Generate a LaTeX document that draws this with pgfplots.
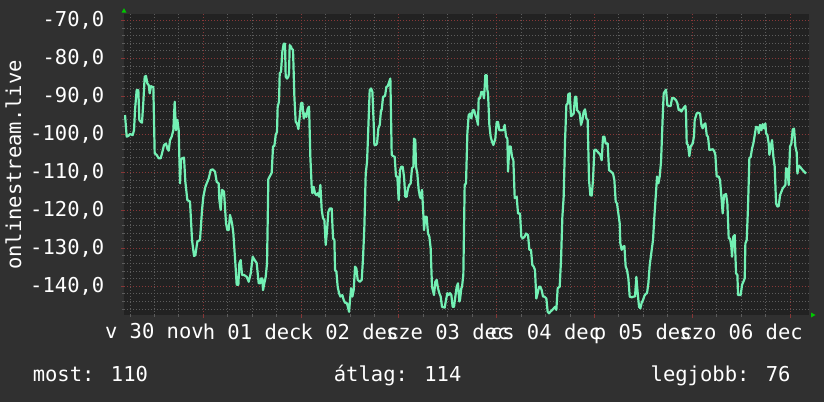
\documentclass[border=0pt]{standalone}
\usepackage{fontspec}
\setmainfont{DejaVu Sans Mono}
\usepackage{pgfplots}
\pgfplotsset{compat=1.18}
\definecolor{outerbg}{RGB}{48,48,48}
\definecolor{plotbg}{RGB}{34,34,34}
\definecolor{mingrid}{RGB}{92,92,92}
\definecolor{majgrid}{RGB}{135,55,55}
\definecolor{linecol}{RGB}{115,240,180}
\definecolor{arrowgreen}{RGB}{0,200,0}
\newcommand{\chartfont}{\fontsize{20.5bp}{24bp}\selectfont}
\begin{document}
\begin{tikzpicture}[x=1bp,y=1bp]
\fill[outerbg] (0,0) rectangle (824,402);
\begin{axis}[
  at={(124bp,87bp)}, anchor=south west,
  scale only axis, width=685bp, height=301bp,
  xmin=4.54, xmax=172.68, ymin=-147.55, ymax=-68.3,
  axis background/.style={fill=plotbg},
  axis line style={draw=none},
  xtick={24,48,72,96,120,144,168},
  xticklabels={},
  minor xtick={6,12,18,30,36,42,54,60,66,78,84,90,102,108,114,126,132,138,150,156,162},
  extra x ticks={12,36,60,84,108,132,156},
  extra x tick labels={v 30 nov,h 01 dec,k 02 dec,sze 03 dec,cs 04 dec,p 05 dec,szo 06 dec},
  extra x tick style={grid=none, major tick length=0pt,
     xticklabel style={anchor=north, inner sep=0pt, yshift=-8.5bp, text=white, font=\chartfont}},
  ytick={-140,-130,-120,-110,-100,-90,-80,-70},
  yticklabels={{-140,0},{-130,0},{-120,0},{-110,0},{-100,0},{-90,0},{-80,0},{-70,0}},
  minor ytick={-146,-144,-142,-138,-136,-134,-132,-128,-126,-124,-122,-118,-116,-114,-112,-108,-106,-104,-102,-98,-96,-94,-92,-88,-86,-84,-82,-78,-76,-74,-72},
  yticklabel style={anchor=east, inner sep=0pt, xshift=-16.5bp, text=white, font=\chartfont},
  grid=both,
  major grid style={draw=majgrid, line width=0.9bp, dash pattern=on 1bp off 2bp},
  minor grid style={draw=mingrid, line width=0.9bp, dash pattern=on 1bp off 2bp},
  xtick pos=bottom, ytick pos=left,
  major tick length=3bp, minor tick length=2bp, tick align=outside,
  major tick style={draw=majgrid, line width=0.9bp},
  minor tick style={draw=mingrid, line width=0.9bp},
  clip=true,
]
\addplot[linecol, line width=2.2bp, line join=round, no marks] table {
x y
4.79 -94.9
5.20 -100.6
5.61 -100.4
6.01 -99.9
6.67 -100.2
7.00 -98.9
7.24 -93.6
7.65 -88.3
8.06 -88.3
8.31 -96.2
8.63 -96.7
8.96 -96.9
9.29 -91.4
9.62 -84.8
9.94 -84.6
10.27 -86.6
10.60 -87.0
10.84 -89.2
11.17 -87.3
11.50 -87.5
11.74 -87.5
12.07 -105.0
12.56 -105.4
13.05 -106.3
13.54 -106.3
13.87 -105.0
14.36 -102.8
14.85 -102.4
15.18 -103.7
15.51 -104.3
15.83 -101.5
16.24 -100.6
16.65 -98.9
16.98 -91.4
17.31 -98.9
17.64 -96.2
17.96 -98.9
18.29 -112.9
18.54 -106.8
18.78 -106.3
19.27 -106.1
19.60 -112.5
20.09 -117.3
20.74 -117.7
21.24 -127.8
21.73 -132.0
22.05 -131.8
22.55 -128.2
23.20 -127.8
23.69 -119.9
24.02 -116.4
24.51 -113.8
24.84 -112.9
25.33 -111.6
25.82 -109.4
26.31 -109.2
26.88 -109.8
27.29 -112.5
27.78 -112.9
27.95 -117.3
28.27 -119.9
28.60 -114.6
29.09 -115.1
29.58 -123.4
29.91 -125.2
30.24 -125.2
30.56 -121.2
31.06 -123.4
31.38 -126.1
31.87 -133.9
32.20 -139.6
32.61 -139.6
32.86 -133.9
33.18 -133.1
33.51 -137.0
34.00 -137.0
34.66 -137.5
35.15 -138.8
35.64 -136.6
36.13 -132.2
36.62 -133.1
37.11 -133.9
37.60 -139.2
38.01 -139.2
38.17 -137.9
38.50 -137.9
38.66 -141.0
38.99 -139.2
39.32 -137.5
39.65 -133.9
39.97 -111.8
40.30 -111.1
40.79 -110.1
41.12 -103.2
41.45 -103.0
41.77 -100.2
42.10 -99.3
42.26 -92.7
42.59 -91.4
42.76 -83.9
43.08 -83.5
43.41 -78.2
43.74 -76.1
44.06 -76.1
44.23 -84.8
44.56 -85.3
44.88 -84.8
45.05 -83.9
45.21 -76.5
45.54 -76.9
45.70 -77.4
46.03 -77.8
46.36 -90.1
46.68 -96.7
47.01 -97.1
47.34 -98.6
47.67 -95.4
47.99 -91.8
48.32 -91.7
48.65 -95.8
48.97 -94.5
49.30 -95.4
49.63 -93.2
49.96 -92.7
50.28 -105.9
50.61 -113.8
50.78 -115.5
51.10 -113.8
51.43 -115.5
51.76 -116.0
52.08 -115.5
52.41 -116.4
52.74 -113.3
53.07 -119.9
53.39 -122.1
53.72 -122.5
54.05 -129.1
54.38 -125.2
54.70 -120.4
55.03 -119.5
55.52 -119.5
55.85 -127.4
56.18 -127.8
56.34 -135.7
56.67 -136.1
56.99 -140.1
57.32 -141.8
57.65 -142.7
58.14 -142.3
58.47 -143.6
58.79 -144.3
59.29 -144.5
59.78 -146.7
60.02 -143.6
60.27 -140.5
60.60 -142.7
60.92 -141.0
61.25 -134.8
61.58 -135.3
61.90 -138.3
62.40 -138.8
62.89 -138.3
63.21 -132.6
63.54 -124.3
63.87 -110.3
64.20 -107.2
64.52 -98.0
64.85 -88.3
65.18 -87.9
65.51 -88.8
65.83 -97.1
66.00 -102.8
66.32 -102.8
66.65 -102.4
66.98 -98.4
67.31 -97.5
67.63 -93.6
67.80 -93.6
68.12 -90.1
68.61 -89.9
68.94 -87.5
69.27 -87.3
69.76 -85.7
69.92 -85.3
70.25 -105.4
70.58 -105.7
70.98 -105.9
71.30 -111.1
71.63 -111.1
71.96 -117.3
72.28 -109.4
72.61 -108.5
72.94 -108.5
73.27 -111.1
73.59 -116.4
73.92 -116.4
74.25 -114.2
74.58 -113.3
74.90 -112.9
75.23 -108.9
75.56 -108.5
75.72 -101.1
76.05 -101.5
76.21 -108.5
76.54 -110.3
76.87 -114.6
77.19 -116.4
77.36 -116.8
77.69 -114.6
78.01 -120.8
78.18 -125.2
78.50 -121.7
78.83 -121.7
79.16 -126.1
79.49 -126.9
79.81 -130.0
80.14 -140.1
80.63 -142.3
80.96 -138.8
81.29 -138.3
81.61 -140.5
81.94 -141.8
82.27 -142.7
82.60 -145.4
82.92 -145.5
83.25 -145.6
83.58 -143.6
83.91 -141.8
84.23 -142.3
84.56 -141.8
84.89 -142.3
85.21 -145.4
85.54 -145.4
85.87 -142.7
86.20 -140.1
86.52 -139.2
86.85 -144.0
87.01 -143.6
87.34 -140.5
87.51 -140.1
87.83 -137.0
88.16 -113.3
88.49 -112.9
88.82 -99.7
89.14 -94.9
89.47 -94.5
89.80 -95.8
90.12 -93.6
90.45 -93.6
90.78 -94.9
91.11 -95.8
91.43 -97.5
91.60 -90.5
91.92 -90.5
92.25 -88.8
92.58 -88.8
92.91 -90.5
93.23 -84.4
93.56 -84.4
93.73 -88.3
93.89 -89.2
94.22 -97.5
94.54 -100.6
94.87 -101.9
95.20 -102.8
95.69 -101.1
96.02 -96.7
96.34 -96.7
96.67 -98.9
97.16 -98.9
97.65 -98.9
97.98 -97.5
98.31 -100.6
98.64 -101.1
98.80 -109.8
99.13 -103.2
99.45 -103.2
99.78 -105.9
100.11 -106.8
100.44 -116.8
100.93 -116.4
101.25 -120.8
101.74 -120.8
102.07 -126.9
102.40 -127.4
102.89 -126.9
103.22 -126.1
103.71 -126.5
104.04 -130.4
104.44 -130.4
104.77 -134.4
105.10 -134.8
105.42 -135.7
105.75 -143.2
106.08 -141.8
106.41 -140.1
106.73 -140.1
107.06 -141.0
107.39 -142.7
107.72 -142.7
108.21 -143.2
108.53 -146.7
108.86 -147.1
109.19 -146.7
109.68 -146.2
110.01 -145.8
110.33 -145.4
110.66 -146.2
110.99 -140.5
111.48 -140.1
111.81 -133.1
112.14 -121.7
112.46 -116.4
112.79 -101.9
113.12 -92.3
113.44 -91.8
113.61 -89.4
113.94 -89.2
114.26 -95.2
114.59 -94.9
114.92 -94.5
115.24 -90.1
115.57 -90.1
115.74 -93.6
116.06 -94.0
116.39 -94.5
116.72 -97.5
117.05 -96.2
117.37 -94.0
117.70 -93.4
118.03 -95.8
118.35 -96.2
118.68 -112.0
119.01 -116.0
119.34 -116.1
119.66 -112.0
119.99 -104.1
120.32 -104.0
120.81 -104.6
121.14 -105.0
121.46 -105.4
121.79 -106.8
122.12 -100.6
122.45 -100.6
122.77 -102.4
123.26 -102.4
123.59 -109.4
124.08 -109.8
124.57 -110.3
124.90 -112.0
125.23 -117.7
125.56 -118.2
125.88 -120.8
126.21 -123.4
126.37 -128.7
126.70 -130.4
127.03 -129.6
127.36 -129.4
127.68 -134.8
128.01 -135.7
128.34 -137.9
128.67 -142.7
129.16 -142.9
129.65 -142.7
129.97 -142.7
130.30 -137.5
130.63 -141.8
130.96 -145.4
131.28 -145.8
131.61 -144.3
131.94 -143.6
132.27 -142.5
132.59 -142.0
132.92 -141.8
133.25 -139.2
133.58 -134.4
134.07 -130.4
134.39 -127.8
134.72 -121.7
135.05 -116.4
135.38 -111.1
135.70 -112.9
136.03 -111.1
136.36 -107.2
136.69 -97.5
137.01 -89.2
137.58 -88.2
137.91 -92.3
138.24 -92.5
138.73 -92.5
139.06 -90.4
139.55 -90.5
140.04 -91.0
140.37 -91.8
140.69 -93.6
141.02 -93.4
141.35 -94.0
141.67 -93.4
142.00 -92.9
142.33 -92.5
142.49 -94.5
142.66 -102.4
142.98 -102.8
143.31 -105.7
143.64 -103.2
144.13 -102.4
144.46 -100.4
144.62 -96.2
145.11 -94.5
145.44 -94.3
145.93 -94.5
146.26 -97.5
146.58 -98.4
146.91 -97.4
147.24 -97.1
147.57 -100.2
147.89 -100.6
148.22 -104.1
148.71 -104.0
149.04 -103.9
149.37 -104.3
149.69 -105.4
150.02 -111.1
150.51 -111.1
150.84 -112.0
151.17 -116.4
151.49 -120.8
151.82 -116.0
152.31 -115.7
152.64 -118.2
152.97 -127.4
153.29 -127.4
153.62 -129.6
153.79 -132.2
154.11 -126.9
154.44 -126.5
154.77 -136.6
155.10 -137.0
155.26 -142.3
155.91 -142.3
156.24 -139.6
156.57 -138.8
156.90 -137.9
157.06 -128.7
157.39 -127.8
157.71 -119.0
158.04 -106.3
158.37 -105.9
158.70 -103.7
159.02 -102.4
159.35 -100.2
159.68 -98.0
160.17 -98.2
160.33 -99.7
160.66 -97.5
160.99 -98.9
161.31 -97.3
161.64 -98.4
161.97 -97.1
162.13 -99.7
162.46 -100.2
162.79 -102.4
162.95 -105.4
163.28 -103.2
163.61 -101.5
163.93 -105.9
164.26 -108.5
164.59 -118.2
164.92 -119.0
165.24 -118.9
165.57 -116.0
165.90 -115.1
166.22 -114.2
166.55 -113.8
166.88 -113.3
167.04 -108.9
167.37 -109.2
167.70 -113.3
168.02 -103.2
168.35 -102.4
168.68 -98.7
169.01 -98.5
169.33 -103.2
169.66 -104.8
169.83 -110.3
170.15 -108.3
170.48 -108.5
170.97 -109.2
171.46 -109.8
171.95 -110.3
};
\end{axis}
\fill[arrowgreen] (121.5,389.3) -- (126.5,389.3) -- (124,393.8) -- cycle;
\fill[arrowgreen] (811,84.5) -- (811,89.5) -- (815.5,87) -- cycle;
\node[rotate=90, text=white, font=\chartfont, inner sep=0pt] at (13.5,237) {onlinestream.live};
\node[anchor=base west, text=white, font=\chartfont, inner sep=0pt] at (32.6,21) {most: 110};
\node[anchor=base west, text=white, font=\chartfont, inner sep=0pt] at (333.7,21) {átlag: 114};
\node[anchor=base west, text=white, font=\chartfont, inner sep=0pt] at (650.5,21) {legjobb: 76};
\end{tikzpicture}
\end{document}
